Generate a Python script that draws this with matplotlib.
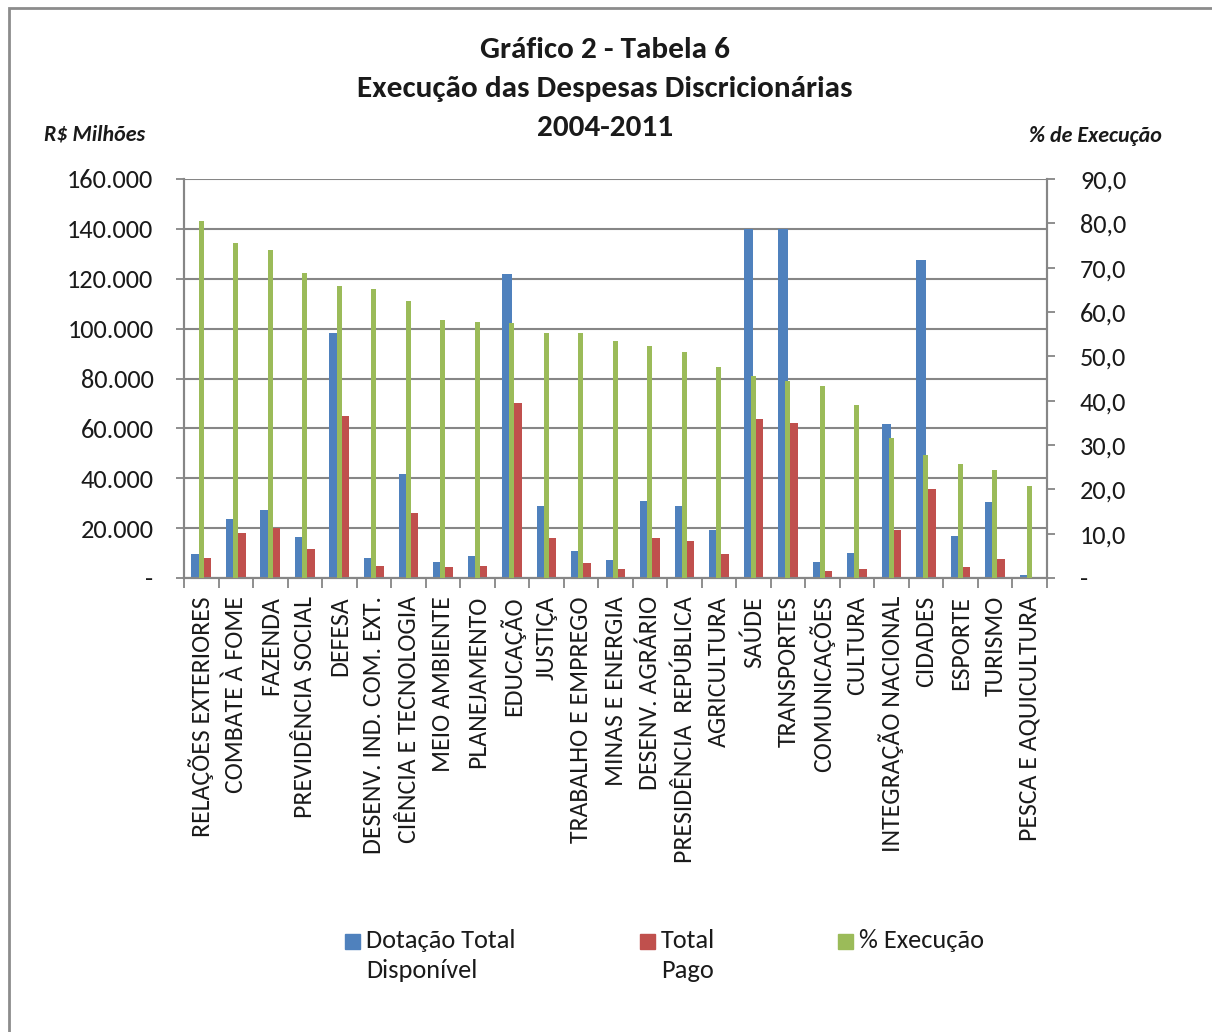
import matplotlib.pyplot as plt
from matplotlib.patches import Rectangle
from matplotlib.ticker import FuncFormatter, MultipleLocator, FixedLocator
import numpy as np

# Órgãos (eixo X)
orgaos = [
    'RELAÇÕES EXTERIORES', 'COMBATE À FOME', 'FAZENDA', 'PREVIDÊNCIA SOCIAL',
    'DEFESA', 'DESENV. IND. COM. EXT.', 'CIÊNCIA E TECNOLOGIA', 'MEIO AMBIENTE',
    'PLANEJAMENTO', 'EDUCAÇÃO', 'JUSTIÇA', 'TRABALHO E EMPREGO',
    'MINAS E ENERGIA', 'DESENV. AGRÁRIO', 'PRESIDÊNCIA  REPÚBLICA', 'AGRICULTURA',
    'SAÚDE', 'TRANSPORTES', 'COMUNICAÇÕES', 'CULTURA',
    'INTEGRAÇÃO NACIONAL', 'CIDADES', 'ESPORTE', 'TURISMO', 'PESCA E AQUICULTURA',
]

# R$ milhões
dotacao = [9500, 23800, 27400, 16600, 98100, 7900, 41700, 6500,
           8900, 121800, 28900, 10900, 7300, 31000, 28900, 19100,
           140000, 139800, 6300, 9900, 61600, 127400, 17000, 30400, 1200]
pago = [7900, 18200, 20200, 11600, 64800, 4800, 25900, 4400,
        4800, 70000, 16000, 5900, 3700, 16000, 15000, 9500,
        63800, 62200, 2700, 3700, 19100, 35600, 4300, 7500, 300]
# % de execução
execucao = [80.6, 75.5, 74.0, 68.7, 65.9, 65.3, 62.4, 58.1,
            57.8, 57.5, 55.2, 55.2, 53.5, 52.3, 50.9, 47.7,
            45.6, 44.5, 43.3, 39.0, 31.5, 27.7, 25.8, 24.3, 20.8]

AZUL = '#4F81BD'
VERMELHO = '#C0504D'
VERDE = '#9BBB59'
CINZA = '#868686'
TEXTO = '#1a1a1a'

plt.rcParams['font.family'] = ['Carlito', 'DejaVu Sans']

W, H = 1212, 1032
fig = plt.figure(figsize=(W / 100, H / 100), dpi=100)

# moldura do gráfico
fig.patches.append(Rectangle((9 / W, -0.1), 1.2, 1.1 - 8 / H, transform=fig.transFigure,
                             fill=False, edgecolor='#8C8C8C', linewidth=2))

ax1 = fig.add_axes([184 / W, 1 - 578 / H, (1046.7 - 184) / W, (578 - 179) / H])
ax2 = ax1.twinx()

x = np.arange(len(orgaos))
wb = 0.284
ax1.bar(x - wb / 2, dotacao, width=wb, color=AZUL, zorder=3)
ax1.bar(x + wb / 2, pago, width=wb, color=VERMELHO, zorder=3)
ax2.bar(x, execucao, width=0.145, color=VERDE, zorder=3)

ax1.set_xlim(-0.5, len(orgaos) - 0.5)
ax1.set_ylim(0, 160000)
ax2.set_ylim(0, 90)
ax1.yaxis.set_major_locator(MultipleLocator(20000))
ax2.yaxis.set_major_locator(MultipleLocator(10))

def fmt_milhoes(v, pos):
    if v == 0:
        return '-'
    return f'{int(v):,}'.replace(',', '.')

def fmt_pct(v, pos):
    if v == 0:
        return '-'
    return f'{v:.1f}'.replace('.', ',')

ax1.yaxis.set_major_formatter(FuncFormatter(fmt_milhoes))
ax2.yaxis.set_major_formatter(FuncFormatter(fmt_pct))

ax1.grid(axis='y', color=CINZA, linewidth=1.5, zorder=0)
ax1.set_axisbelow(True)

# rótulos das categorias centrados, marcas nos limites
ax1.set_xticks(x)
ax1.set_xticklabels(orgaos, rotation=90, fontsize=18.5, va='top', ha='center', color=TEXTO)
ax1.xaxis.set_minor_locator(FixedLocator(np.arange(-0.5, len(orgaos), 1.0)))
ax1.tick_params(axis='x', which='major', length=0, pad=13)
ax1.tick_params(axis='x', which='minor', length=7, width=1.3, color=CINZA)

ax1.tick_params(axis='y', labelsize=19, length=6, width=1.3, color=CINZA, pad=16, labelcolor=TEXTO)
ax2.tick_params(axis='y', labelsize=19, length=6, width=1.3, color=CINZA, pad=18, labelcolor=TEXTO)

for ax in (ax1, ax2):
    ax.spines['top'].set_visible(False)
    for s in ('left', 'right', 'bottom'):
        ax.spines[s].set_color(CINZA)
        ax.spines[s].set_linewidth(1.5)

# títulos
titulo = ['Gráfico 2 - Tabela 6', 'Execução das Despesas Discricionárias', '2004-2011']
for i, linha in enumerate(titulo):
    fig.text(605 / W, 1 - (50 + 39 * i) / H, linha, ha='center', va='center',
             fontsize=22.5, fontweight='bold', color=TEXTO)

fig.text(44 / W, 1 - 134 / H, 'R$ Milhões', ha='left', va='center', fontsize=15.8,
         fontweight='bold', style='italic', color=TEXTO)
fig.text(1162 / W, 1 - 136 / H, '% de Execução', ha='right', va='center', fontsize=15.8,
         fontweight='bold', style='italic', color=TEXTO)

# legenda
legenda = [(AZUL, 'Dotação Total\nDisponível', 345), (VERMELHO, 'Total\nPago', 640),
           (VERDE, '% Execução', 838)]
for cor, texto, px in legenda:
    fig.patches.append(Rectangle((px / W, 1 - 949 / H), 15 / W, 15 / H,
                                 transform=fig.transFigure, color=cor))
    fig.text((px + 21) / W, 1 - 929 / H, texto, ha='left', va='top', fontsize=19,
             linespacing=1.38, color=TEXTO)

fig.savefig('out.png', dpi=100)
